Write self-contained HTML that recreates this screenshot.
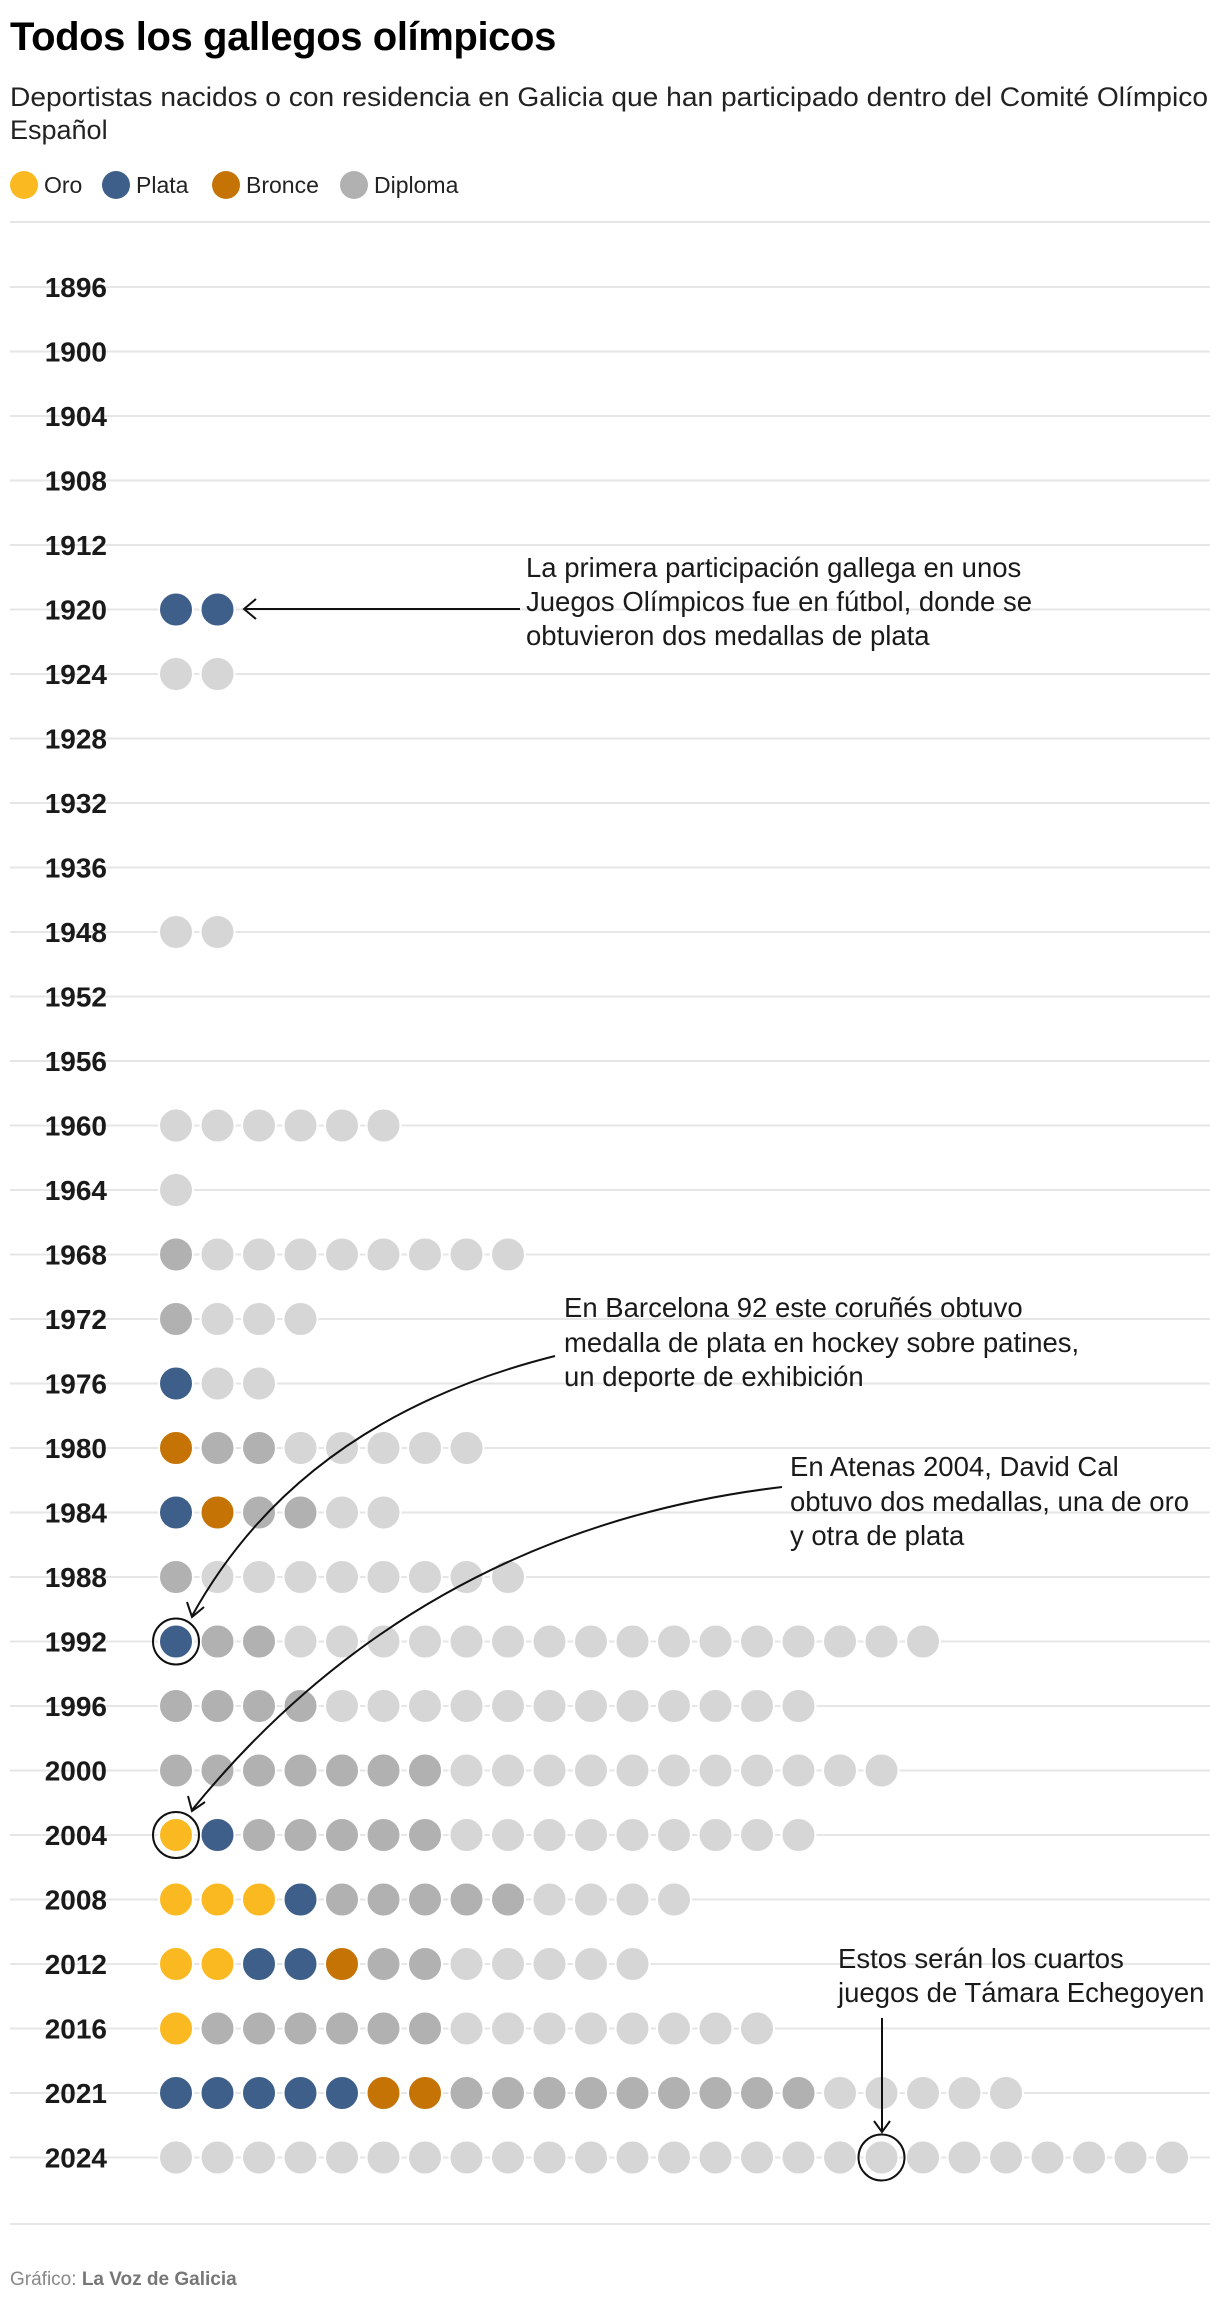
<!DOCTYPE html>
<html><head><meta charset="utf-8">
<style>
html,body{margin:0;padding:0;background:#fff;}
body{width:1220px;height:2300px;overflow:hidden;font-family:"Liberation Sans",sans-serif;}
svg text{font-family:"Liberation Sans",sans-serif;}
</style></head>
<body>
<svg id="chart" width="1220" height="2300" viewBox="0 0 1220 2300" xmlns="http://www.w3.org/2000/svg">
  <text x="10" y="50" font-size="40" font-weight="bold" fill="#000" letter-spacing="-0.4">Todos los gallegos olímpicos</text>
  <text x="10" y="106" font-size="27" fill="#222" textLength="1198" lengthAdjust="spacingAndGlyphs">Deportistas nacidos o con residencia en Galicia que han participado dentro del Comité Olímpico</text>
  <text x="10" y="139" font-size="27" fill="#222">Español</text>
  <g>
    <circle cx="24" cy="185" r="14" fill="#fbb921"/>
    <text x="44" y="193" font-size="23" fill="#222">Oro</text>
    <circle cx="116" cy="185" r="14" fill="#3d5f8a"/>
    <text x="136" y="193" font-size="23" fill="#222">Plata</text>
    <circle cx="226" cy="185" r="14" fill="#c57304"/>
    <text x="246" y="193" font-size="23" fill="#222">Bronce</text>
    <circle cx="354" cy="185" r="14" fill="#b1b1b1"/>
    <text x="374" y="193" font-size="23" fill="#222">Diploma</text>
  </g>
  <line x1="10" y1="222" x2="1210" y2="222" stroke="#e6e6e6" stroke-width="2"/>
  <g id="rows"></g>
  <g id="annotations" fill="none" stroke="#111" stroke-width="2">
    <line x1="520" y1="609" x2="245" y2="609"/>
    <polyline points="256,599 244,609 256,619"/>
    <path d="M555,1356 Q300,1420 192,1616"/>
    <polyline points="187,1602 192,1617 204,1607"/>
    <path d="M782,1487 Q420,1530 192,1810"/>
    <polyline points="188,1796 192,1811 205,1802"/>
    <line x1="882" y1="2018" x2="882" y2="2131"/>
    <polyline points="874,2121 882,2132 890,2121"/>
  </g>
  <g font-size="27.5" fill="#1a1a1a">
    <text x="526" y="577">La primera participación gallega en unos</text>
    <text x="526" y="611">Juegos Olímpicos fue en fútbol, donde se</text>
    <text x="526" y="645">obtuvieron dos medallas de plata</text>
    <text x="564" y="1317">En Barcelona 92 este coruñés obtuvo</text>
    <text x="564" y="1352">medalla de plata en hockey sobre patines,</text>
    <text x="564" y="1386">un deporte de exhibición</text>
    <text x="790" y="1476">En Atenas 2004, David Cal</text>
    <text x="790" y="1511">obtuvo dos medallas, una de oro</text>
    <text x="790" y="1545">y otra de plata</text>
    <text x="838" y="1968">Estos serán los cuartos</text>
    <text x="838" y="2002">juegos de Támara Echegoyen</text>
  </g>
  <line x1="10" y1="2224" x2="1210" y2="2224" stroke="#e6e6e6" stroke-width="2"/>
  <text x="10" y="2285" font-size="19" fill="#888">Gráfico: <tspan font-weight="bold" fill="#777">La Voz de Galicia</tspan></text>
</svg>
<script>
// Data
const years = ["1896","1900","1904","1908","1912","1920","1924","1928","1932","1936","1948","1952","1956","1960","1964","1968","1972","1976","1980","1984","1988","1992","1996","2000","2004","2008","2012","2016","2021","2024"];
// O = oro, P = plata, B = bronce, D = diploma, N = participante
const rowsData = ["","","","","","PP","NN","","","","NN","","","NNNNNN","N","DNNNNNNNN","DNNN","PNN","BDDNNNNN","PBDDNN","DNNNNNNNN","PDDNNNNNNNNNNNNNNNN","DDDDNNNNNNNNNNNN","DDDDDDDNNNNNNNNNNN","OPDDDDDNNNNNNNNN","OOOPDDDDDNNNN","OOPPBDDNNNNN","ODDDDDDNNNNNNNN","PPPPPBBDDDDDDDDDNNNNN","NNNNNNNNNNNNNNNNNNNNNNNNN"];
const highlights = [["1992",0],["2004",0],["2024",17]];

const colors = {O:"#fbb921",P:"#3d5f8a",B:"#c57304",D:"#b1b1b1",N:"#d6d6d6"};
const NS = "http://www.w3.org/2000/svg";
const g = document.getElementById("rows");
const yScale = i => 287 + i * 64.5;
const xScale = j => 176 + j * 41.5;

years.forEach((yr, i) => {
  const y = yScale(i);
  const line = document.createElementNS(NS, "line");
  line.setAttribute("x1", 10); line.setAttribute("x2", 1210);
  line.setAttribute("y1", y); line.setAttribute("y2", y);
  line.setAttribute("stroke", "#e6e6e6"); line.setAttribute("stroke-width", 2);
  
  
  g.appendChild(line);
  const t = document.createElementNS(NS, "text");
  t.setAttribute("x", 107); t.setAttribute("y", y + 10);
  t.setAttribute("text-anchor", "end");
  t.setAttribute("font-size", 28); t.setAttribute("font-weight", "bold");
  t.setAttribute("fill", "#1a1a1a");
  t.textContent = yr;
  
  
  g.appendChild(t);
  rowsData[i].split("").forEach((c, j) => {
    const dot = document.createElementNS(NS, "circle");
    dot.setAttribute("cx", xScale(j)); dot.setAttribute("cy", y);
    dot.setAttribute("r", 17);
    dot.setAttribute("fill", colors[c]);
    dot.setAttribute("stroke", "#fff"); dot.setAttribute("stroke-width", 2);
    
    
    g.appendChild(dot);
  });
});
highlights.forEach(h => {
  const i = years.indexOf(h[0]);
  const c = document.createElementNS(NS, "circle");
  c.setAttribute("cx", xScale(h[1])); c.setAttribute("cy", yScale(i));
  c.setAttribute("r", 23); c.setAttribute("fill", "none");
  c.setAttribute("stroke", "#111"); c.setAttribute("stroke-width", 2);
  
  
  g.appendChild(c);
});
</script>
</body></html>
